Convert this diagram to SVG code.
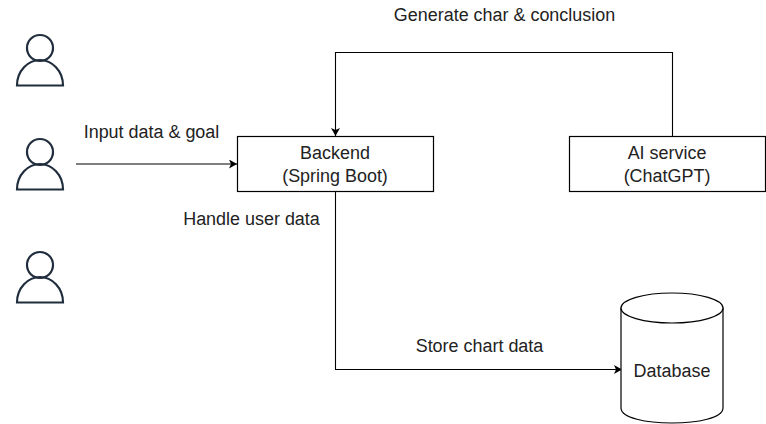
<svg xmlns="http://www.w3.org/2000/svg" width="766" height="424" viewBox="0 0 766 424">
<style>
text{font-family:"Liberation Sans",Arial,sans-serif;font-size:17.950px;fill:#222;text-anchor:middle}
.s{fill:#fff;stroke:#000;stroke-width:1.200}
.u{fill:none;stroke:#1f2d3d;stroke-width:2.200}
.c{fill:none;stroke:#000;stroke-width:1.100}
</style>
<defs><marker id="a" markerWidth="9" markerHeight="10" refX="8" refY="4.500" orient="auto" markerUnits="userSpaceOnUse"><path d="M0 0L8 4.500L0 9L2 4.500Z" fill="#000"/></marker></defs>
<rect width="766" height="424" fill="#fff"/>
<g id="user1"><circle class="u" cx="40" cy="48" r="13"/><path class="u" d="M17 85.500C17 71 28 60 40 60C52 60 63 71 63 85.500Z"/></g>
<g id="user2"><circle class="u" cx="40" cy="152" r="13"/><path class="u" d="M17 189.500C17 175 28 164 40 164C52 164 63 175 63 189.500Z"/></g>
<g id="user3"><circle class="u" cx="40" cy="265" r="13"/><path class="u" d="M17 302.500C17 288 28 277 40 277C52 277 63 288 63 302.500Z"/></g>
<g id="connectors">
<path class="c" d="M76 164H237" marker-end="url(#a)"/>
<path class="c" d="M672.500 136V52.500H335.500V136" marker-end="url(#a)"/>
<path class="c" d="M335.500 191V369.500H622" marker-end="url(#a)"/>
</g>
<g id="backend"><rect class="s" x="237.500" y="136.500" width="196" height="55"/><text x="335" y="159">Backend</text><text x="335" y="182">(Spring Boot)</text></g>
<g id="ai"><rect class="s" x="569.500" y="136.500" width="196" height="55"/><text x="667" y="159">AI service</text><text x="667" y="182">(ChatGPT)</text></g>
<g id="database"><path class="s" d="M621 308V408C621 428 723 428 723 408V308Z"/><ellipse class="s" cx="672" cy="308" rx="51" ry="15"/><text x="672" y="377">Database</text></g>
<text x="504.500" y="21">Generate char &amp; conclusion</text>
<text x="151.500" y="138">Input data &amp; goal</text>
<text x="251.500" y="225">Handle user data</text>
<text x="479.500" y="352">Store chart data</text>
</svg>
